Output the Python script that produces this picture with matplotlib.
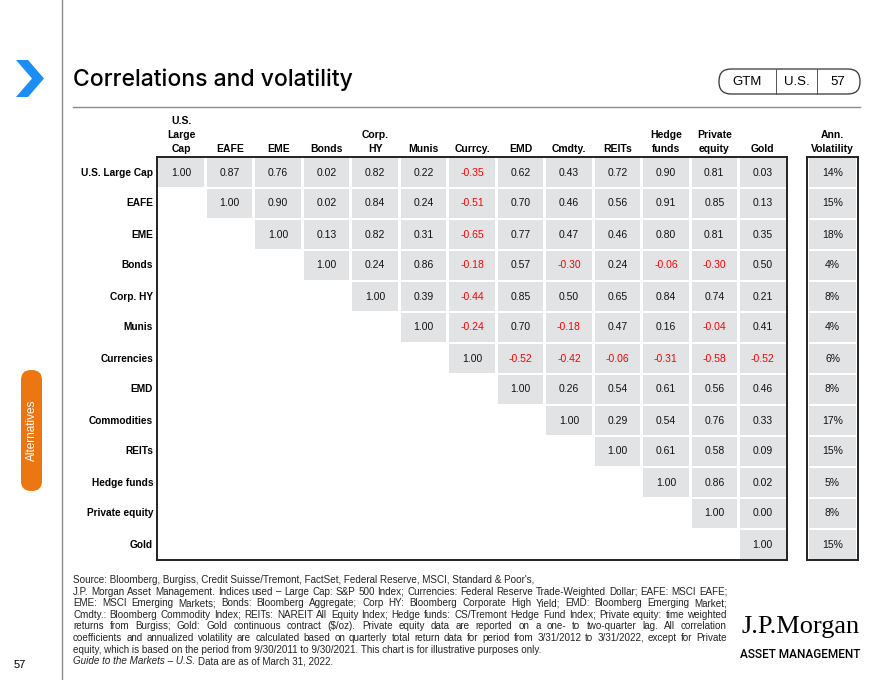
import matplotlib
matplotlib.use("Agg")
import matplotlib.pyplot as plt
from matplotlib.patches import Rectangle, FancyBboxPatch, Polygon

plt.rcParams['font.family'] = ['Liberation Sans', 'DejaVu Sans']

# data
row_labels = ["U.S. Large Cap", "EAFE", "EME", "Bonds", "Corp. HY", "Munis", "Currencies",
              "EMD", "Commodities", "REITs", "Hedge funds", "Private equity", "Gold"]
col_labels = ["U.S.\nLarge\nCap", "EAFE", "EME", "Bonds", "Corp.\nHY", "Munis", "Currcy.",
              "EMD", "Cmdty.", "REITs", "Hedge\nfunds", "Private\nequity", "Gold"]
# upper triangle, each row starts at the diagonal
corr = [
    [1.00, 0.87, 0.76, 0.02, 0.82, 0.22, -0.35, 0.62, 0.43, 0.72, 0.90, 0.81, 0.03],
    [1.00, 0.90, 0.02, 0.84, 0.24, -0.51, 0.70, 0.46, 0.56, 0.91, 0.85, 0.13],
    [1.00, 0.13, 0.82, 0.31, -0.65, 0.77, 0.47, 0.46, 0.80, 0.81, 0.35],
    [1.00, 0.24, 0.86, -0.18, 0.57, -0.30, 0.24, -0.06, -0.30, 0.50],
    [1.00, 0.39, -0.44, 0.85, 0.50, 0.65, 0.84, 0.74, 0.21],
    [1.00, -0.24, 0.70, -0.18, 0.47, 0.16, -0.04, 0.41],
    [1.00, -0.52, -0.42, -0.06, -0.31, -0.58, -0.52],
    [1.00, 0.26, 0.54, 0.61, 0.56, 0.46],
    [1.00, 0.29, 0.54, 0.76, 0.33],
    [1.00, 0.61, 0.58, 0.09],
    [1.00, 0.86, 0.02],
    [1.00, 0.00],
    [1.00],
]
volatility = [14, 15, 18, 4, 8, 4, 6, 8, 17, 15, 5, 8, 15]

footnote = [
    "Source: Bloomberg, Burgiss, Credit Suisse/Tremont, FactSet, Federal Reserve, MSCI, Standard & Poor's,",
    "J.P. Morgan Asset Management. Indices used \u2013 Large Cap: S&P 500 Index; Currencies: Federal Reserve Trade-Weighted Dollar; EAFE: MSCI EAFE;",
    "EME: MSCI Emerging Markets; Bonds: Bloomberg Aggregate; Corp HY: Bloomberg Corporate High Yield; EMD: Bloomberg Emerging Market;",
    "Cmdty.: Bloomberg Commodity Index; REITs: NAREIT All Equity Index; Hedge funds: CS/Tremont Hedge Fund Index; Private equity: time weighted",
    "returns from Burgiss; Gold: Gold continuous contract ($/oz). Private equity data are reported on a one- to two-quarter lag. All correlation",
    "coefficients and annualized volatility are calculated based on quarterly total return data for period from 3/31/2012 to 3/31/2022, except for Private",
    "equity, which is based on the period from 9/30/2011 to 9/30/2021. This chart is for illustrative purposes only.",
]
justify = [False, True, True, True, True, True, False]

CELL = "#e2e3e5"
RED = "#ff0000"
W, H = 880, 680

fig = plt.figure(figsize=(8.8, 6.8), dpi=100)
deco = fig.add_axes([0, 0, 1, 1], zorder=0)
deco.set_xlim(0, W)
deco.set_ylim(H, 0)
deco.axis("off")


def fig_box(x0, y0, x1, y1):
    return [x0 / W, 1 - y1 / H, (x1 - x0) / W, (y1 - y0) / H]


# slide furniture
deco.plot([62, 62], [0, H], color="#8c8c8c", lw=1)
deco.add_patch(Polygon([(16, 60), (28, 60), (44, 78.5), (28, 97), (16, 97), (32, 78.5)],
                       closed=True, color="#1b8df5", lw=0))
deco.text(73, 80, "Correlations and volatility", fontsize=16.5, fontweight="medium",
          va="center", ha="left", color="black", family=["Inter", "Liberation Sans"])
deco.plot([73, 860], [107, 107], color="#8c8c8c", lw=1)

deco.add_patch(FancyBboxPatch((719, 69), 141, 25, boxstyle="round,pad=0,rounding_size=12",
                              fc="white", ec="#333333", lw=0.9))
deco.plot([776, 776], [69, 94], color="#555555", lw=0.7)
deco.plot([817, 817], [69, 94], color="#555555", lw=0.7)
for x, s in [(747, "GTM"), (796.5, "U.S."), (838, "57")]:
    deco.text(x, 82, s, fontsize=9.5, ha="center", va="center")

deco.add_patch(FancyBboxPatch((21, 370), 21, 121, boxstyle="round,pad=0,rounding_size=10",
                              fc="#ec7611", ec="none"))
deco.text(31.5, 430, "Alternatives", rotation=90, color="white", fontsize=8.5,
          ha="center", va="center")
deco.text(20, 665, "57", fontsize=8, ha="center", va="center")

# correlation table
tab = fig.add_axes(fig_box(157, 157, 787, 560))
n = len(row_labels)
tab.set_xlim(0, n)
tab.set_ylim(n, 0)
tab.set_xticks([])
tab.set_yticks([])
for sp in tab.spines.values():
    sp.set_linewidth(1.4)
    sp.set_color("#222222")

for i, row in enumerate(corr):
    for k, v in enumerate(row):
        j = i + k
        tab.add_patch(Rectangle((j + 0.03, i + 0.045), 0.94, 0.91, fc=CELL, ec="none"))
        tab.text(j + 0.5, i + 0.5, f"{v:.2f}", ha="center", va="center", fontsize=7.5,
                 color=RED if v < 0 else "#111111")

for j, lab in enumerate(col_labels):
    tab.text(j + 0.5, -0.1, lab, ha="center", va="bottom", fontsize=7.5,
             fontweight="bold", linespacing=1.5)
for i, lab in enumerate(row_labels):
    tab.text(-0.08, i + 0.5, lab, ha="right", va="center", fontsize=7.3, fontweight="bold")

# volatility column
vol = fig.add_axes(fig_box(807, 157, 858, 560))
vol.set_xlim(0, 1)
vol.set_ylim(n, 0)
vol.set_xticks([])
vol.set_yticks([])
for sp in vol.spines.values():
    sp.set_linewidth(1.4)
    sp.set_color("#222222")
for i, v in enumerate(volatility):
    vol.add_patch(Rectangle((0.04, i + 0.045), 0.92, 0.91, fc=CELL, ec="none"))
    vol.text(0.5, i + 0.5, f"{v}%", ha="center", va="center", fontsize=7.5, color="#111111")
vol.text(0.5, -0.1, "Ann.\nVolatility", ha="center", va="bottom", fontsize=7.5,
         fontweight="bold", linespacing=1.5)

# footnote, justified like the source
foot_size = 7.1
renderer = fig.canvas.get_renderer()
x_left, x_right = 73, 727
y0, dy = 583, 11.6
for k, line in enumerate(footnote):
    y = y0 + k * dy
    if not justify[k]:
        deco.text(x_left, y, line, fontsize=foot_size, va="baseline", color="#222222")
        continue
    words = line.split(" ")
    objs = [deco.text(0, y, w, fontsize=foot_size, va="baseline", color="#222222")
            for w in words]
    widths = [o.get_window_extent(renderer).width for o in objs]
    gap = max((x_right - x_left - sum(widths)) / (len(words) - 1), 1.0)
    x = x_left
    for o, w in zip(objs, widths):
        o.set_x(x)
        x += w + gap

y_last = y0 + len(footnote) * dy
t1 = deco.text(x_left, y_last, "Guide to the Markets \u2013 U.S.", fontsize=foot_size,
               style="italic", va="baseline", color="#222222")
w1 = t1.get_window_extent(renderer).width
deco.text(x_left + w1 + 3, y_last, "Data are as of March 31, 2022.", fontsize=foot_size,
          va="baseline", color="#222222")

# logo
deco.text(860, 627, "J.P.Morgan", fontsize=19, family="Liberation Serif", ha="right",
          va="center", color="black")
deco.text(860, 655, "ASSET MANAGEMENT", fontsize=8.5, ha="right", va="center",
          family=["Roboto", "Liberation Sans"], fontweight="medium")

fig.savefig("out.png", dpi=100)
